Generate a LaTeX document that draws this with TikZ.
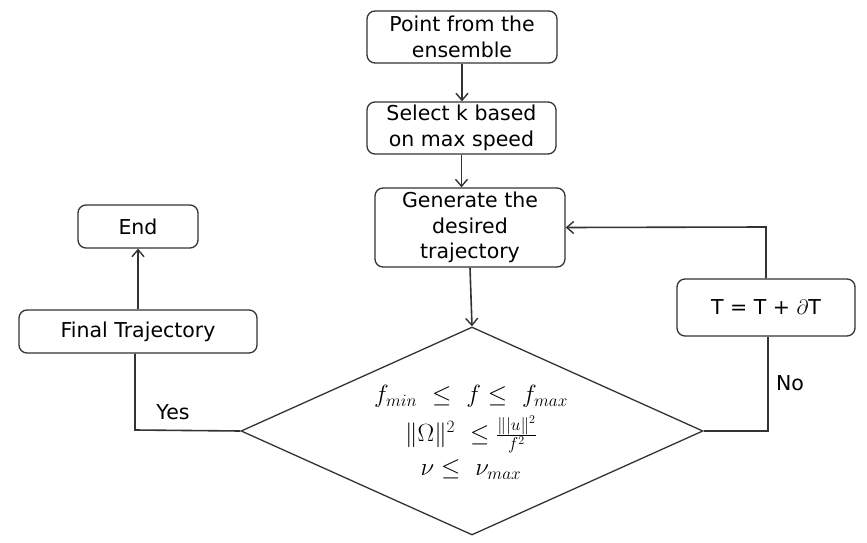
\documentclass[tikz,border=0pt]{standalone}
\usepackage{fontspec}
\setmainfont{DejaVu Sans}
\usetikzlibrary{shapes.geometric,arrows.meta}
\definecolor{ln}{HTML}{333333}
\begin{document}
\begin{tikzpicture}[x=1pt,y=-1pt,
  box/.style={draw=ln,line width=1.3pt,rounded corners=8pt,align=center,inner sep=0pt,
    font=\fontsize{20.5}{25.5}\selectfont,text=black},
  conn/.style={draw=ln,line width=1.6pt},
  arr/.style={conn,-{Straight Barb[length=7pt,width=12pt,line width=1.4pt]}},
  lbl/.style={font=\fontsize{20.5}{25.5}\selectfont,text=black,inner sep=0pt}]
\useasboundingbox (0,0) rectangle (867,543);
\node[box,minimum width=190pt,minimum height=52pt] (p) at (462,37) {Point from the\\ensemble};
\node[box,minimum width=189pt,minimum height=52pt] (s) at (461.5,128) {Select k based\\on max speed};
\node[box,minimum width=190pt,minimum height=79pt] (g) at (470,227.5) {Generate the\\desired\\trajectory};
\node[box,minimum width=120pt,minimum height=43pt] (e) at (138,226.5) {End};
\node[box,minimum width=238pt,minimum height=43pt] (f) at (138,331.5) {Final Trajectory};
\node[box,minimum width=178pt,minimum height=57pt] (t) at (766,307.5) {T = T + $\partial\mathrm{T}$};
\node[diamond,draw=ln,line width=1.3pt,minimum width=462pt,minimum height=208pt,inner sep=0pt,
  shape aspect=2.22] (d) at (472,431) {};
\node[align=center,inner sep=0pt,font=\fontsize{25}{30}\selectfont] (dt) at (471,432)
  {$f_{min}\ \le\ f \le\ f_{max}$\\[9pt]
   $\|\Omega\|^2\ \le \frac{\||u\|^2}{f^2}$\\[4pt]
   $\nu \le\ \nu_{max}$};
\coordinate (yl) at (135,430);
\coordinate (nr) at (768,431);
\coordinate (tr) at (766,227);
\draw[arr] (p.south) -- (p.south |- s.north);
\draw[arr] (s.south) -- (s.south |- g.north);
\draw[arr] (g.south) -- (d.north);
\draw[conn] (d.west) -- (yl) -- (yl |- f.south);
\draw[arr] (f.north) -- (e.south);
\draw[conn] (d.east) -- (nr) -- (nr |- t.south);
\draw[arr] (t.north) -- (tr) -- (g.east);
\node[lbl] (yes) at (173,412) {Yes};
\node[lbl] (no) at (790,383) {No};
\end{tikzpicture}
\end{document}
